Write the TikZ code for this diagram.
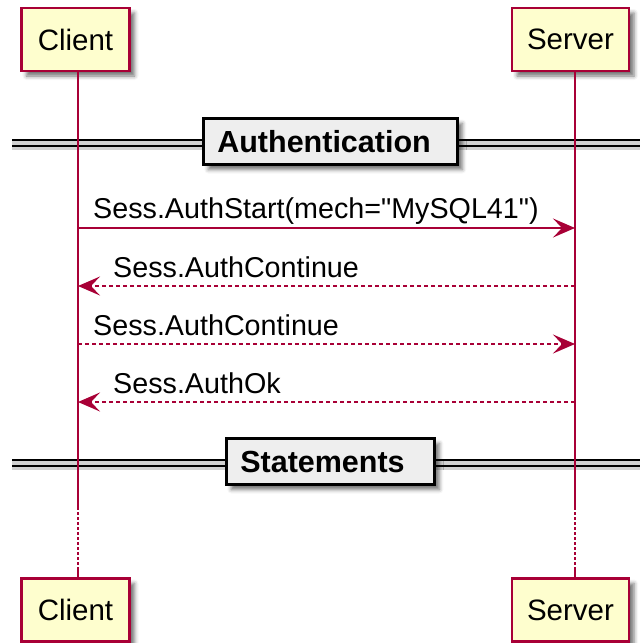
\documentclass[tikz,border=0pt]{standalone}
\usepackage{fontspec}
\setmainfont{Liberation Sans}
\usetikzlibrary{arrows.meta,shadows.blur}
\definecolor{umlred}{HTML}{A80036}
\definecolor{umlfill}{HTML}{FEFECE}
\definecolor{divfill}{HTML}{EEEEEE}
\tikzset{
  softshadow/.style={blur shadow={shadow xshift=5pt, shadow yshift=-5pt,
    shadow blur radius=4pt, shadow opacity=55}},
  actor/.style={draw=umlred, line width=2.2pt, fill=umlfill, minimum height=63pt,
    inner sep=0pt, font=\fontsize{29.5}{35}\selectfont, softshadow},
  divbox/.style={draw=black, line width=2.6pt, fill=divfill, minimum height=46pt,
    inner ysep=0pt, inner xsep=14pt, align=left, anchor=west,
    font=\bfseries\fontsize{30.5}{36}\selectfont, softshadow},
  lifeline/.style={umlred, line width=1.8pt},
  msg/.style={umlred, line width=1.8pt, -{Stealth[length=22pt, width=19pt, inset=9pt]}},
  reply/.style={msg, dash pattern=on 4pt off 3pt},
  msglabel/.style={anchor=base west, inner sep=0pt, font=\fontsize{28.7}{34}\selectfont},
}
\begin{document}
\begin{tikzpicture}[x=1pt, y=-1pt]
\useasboundingbox (0,0) rectangle (640,643);

% participants, top and bottom
\node[actor, minimum width=108pt] (ct) at (75.5,39.5) {Client};
\node[actor, minimum width=117pt] (st) at (570.5,39.5) {Server};
\node[actor, minimum width=108pt] (cb) at (75.5,610) {Client};
\node[actor, minimum width=117pt] (sb) at (570.5,610) {Server};

% divider bars
\foreach \y in {143,463}{
  \fill[black!18] (12,\y-2) rectangle (640,\y+7);
  \draw[black, line width=1.6pt] (12,\y-3) -- (640,\y-3);
  \draw[black, line width=1.6pt] (12,\y+3) -- (640,\y+3);
}
\node[divbox, text width=226pt] (auth) at (202,141.5) {Authentication};
\node[divbox, text width=180pt] (stmt) at (225,461.5) {Statements};

% lifelines
\coordinate (cl1) at (78,507); \coordinate (cl2) at (78,567);
\coordinate (sl1) at (575,507); \coordinate (sl2) at (575,567);
\draw[lifeline] (ct.south -| cl1) -- (cl1);
\draw[lifeline, dash pattern=on 3pt off 2pt] (cl1) -- (cl2);
\draw[lifeline] (cl2) -- (cb.north -| cl2);
\draw[lifeline] (st.south -| sl1) -- (sl1);
\draw[lifeline, dash pattern=on 3pt off 2pt] (sl1) -- (sl2);
\draw[lifeline] (sl2) -- (sb.north -| sl2);

% message endpoints on the lifelines
\coordinate (c1) at (78,228); \coordinate (s1) at (575,228);
\coordinate (c2) at (78,286); \coordinate (s2) at (575,286);
\coordinate (c3) at (78,344); \coordinate (s3) at (575,344);
\coordinate (c4) at (78,402); \coordinate (s4) at (575,402);

% messages
\draw[msg] (c1) -- (s1);
\node[msglabel] (l1) at (93,218) {Sess.AuthStart(mech=\textquotedbl MySQL41\textquotedbl)};
\draw[reply] (s2) -- (c2);
\node[msglabel] (l2) at (113,277) {Sess.AuthContinue};
\draw[reply] (c3) -- (s3);
\node[msglabel] (l3) at (93,335) {Sess.AuthContinue};
\draw[reply] (s4) -- (c4);
\node[msglabel] (l4) at (113,393) {Sess.AuthOk};
\end{tikzpicture}
\end{document}
